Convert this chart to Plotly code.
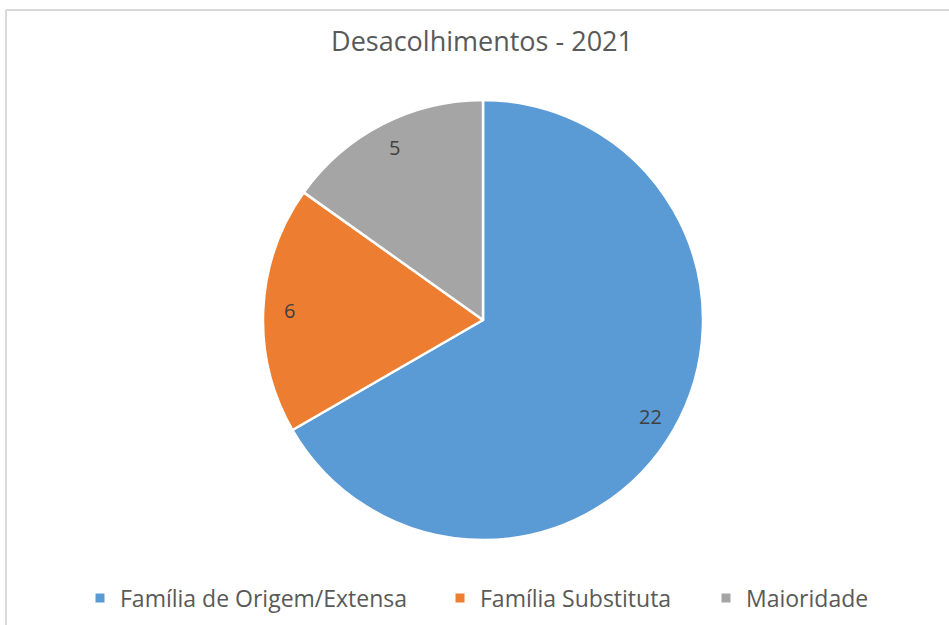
import math
import plotly.graph_objects as go

categories = ["Família de Origem/Extensa", "Família Substituta", "Maioridade"]
values = [22, 6, 5]
colors = ["#5B9BD5", "#ED7D31", "#A5A5A5"]
title_text = "Desacolhimentos - 2021"

W, H = 949, 625
cx, cy, r = 483, 320, 220
label_frac = 0.88
legend_x_px = [80, 440, 706]   # left edges of the three legend boxes

fig = go.Figure()
fig.add_trace(go.Pie(
    labels=categories,
    values=values,
    sort=False,
    direction="clockwise",
    rotation=0,
    marker=dict(colors=colors, line=dict(color="white", width=2.5)),
    textinfo="none",
    hoverinfo="label+value",
    showlegend=False,
    domain=dict(x=[(2 * cx - W) / W, 1], y=[1 - (cy + r) / H, 1 - (cy - r) / H]),
))

# legend entries (one legend per category, to reproduce the spacing)
legend_names = ["legend", "legend2", "legend3"]
for name, col, lg in zip(categories, colors, legend_names):
    fig.add_trace(go.Scatter(
        x=[None], y=[None], mode="markers", name=name,
        marker=dict(symbol="square", size=9, color=col),
        showlegend=True, legend=lg, hoverinfo="skip",
    ))

# data labels placed inside near the rim (computed from the values)
total = sum(values)
annotations = []
start = 0.0
for v in values:
    mid = start + v / total * 360 / 2
    start += v / total * 360
    th = math.radians(mid)
    px = cx + label_frac * r * math.sin(th)
    py = cy - label_frac * r * math.cos(th)
    annotations.append(dict(
        text=str(v), x=px / W, y=1 - py / H, xref="paper", yref="paper",
        showarrow=False, xanchor="center", yanchor="middle",
        font=dict(family="Open Sans", size=20, color="#404040"),
    ))

legend_style = dict(orientation="h", yanchor="middle", y=1 - 598 / H, xanchor="left",
                    font=dict(family="Open Sans", size=23, color="#595959"),
                    itemwidth=30, bgcolor="rgba(0,0,0,0)")

fig.update_layout(
    width=W, height=H,
    margin=dict(l=0, r=0, t=0, b=0),
    paper_bgcolor="white",
    plot_bgcolor="white",
    xaxis=dict(visible=False),
    yaxis=dict(visible=False),
    title=dict(text=title_text, x=482 / W, xanchor="center", y=1 - 42 / H, yanchor="middle",
               font=dict(family="Open Sans", size=27, color="#595959")),
    legend=dict(x=legend_x_px[0] / W, **legend_style),
    legend2=dict(x=legend_x_px[1] / W, **legend_style),
    legend3=dict(x=legend_x_px[2] / W, **legend_style),
    annotations=annotations,
    shapes=[
        dict(type="line", xref="paper", yref="paper", x0=6 / W, x1=1, y0=1 - 10 / H, y1=1 - 10 / H,
             line=dict(color="#D9D9D9", width=2)),
        dict(type="line", xref="paper", yref="paper", x0=6 / W, x1=6 / W, y0=0, y1=1 - 10 / H,
             line=dict(color="#D9D9D9", width=2)),
    ],
)

fig.write_html("out.html")
